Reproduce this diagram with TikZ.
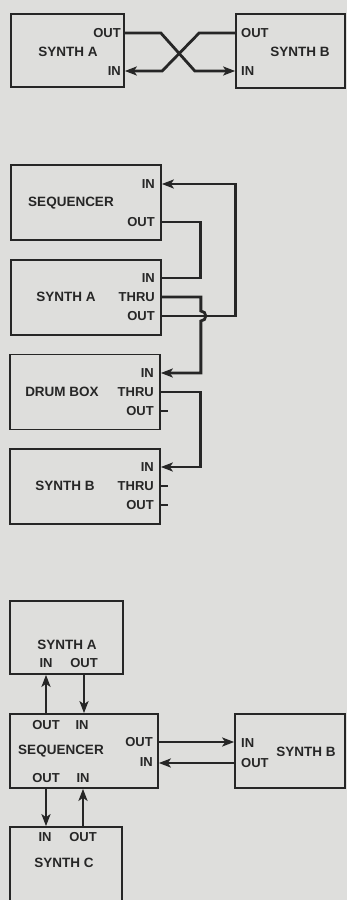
\documentclass[tikz,border=0pt]{standalone}
\usepackage{fontspec}
\setmainfont{Liberation Sans}
\usetikzlibrary{arrows.meta,positioning}
\definecolor{paper}{RGB}{222,222,220}
\definecolor{ink}{RGB}{38,38,38}

\begin{document}
\begin{tikzpicture}[
  x=1pt, y=-1pt,
  unit/.style={rectangle, draw=ink, line width=1.7pt, minimum width=150pt, minimum height=75pt, inner sep=0pt},
  port/.style={font=\bfseries\fontsize{13}{13}\selectfont, text=ink, inner sep=0pt},
  title/.style={font=\bfseries\fontsize{13.5}{13.5}\selectfont, text=ink, inner sep=0pt},
  wire/.style={draw=ink, line width=2.8pt},
  >={Stealth[length=12pt,width=9pt,inset=3pt]}
]

\path[use as bounding box, fill=paper] (0,0) rectangle (347,900);
\clip (0,0) rectangle (347,900);

% --- two synths, crossed ---
\node[unit, minimum width=113pt, minimum height=73pt] (synA) at (67.5,50.5) {};
\node[title] (synAname) at (68,52) {SYNTH A};
\node[port, anchor=east] (synAout) at (121,33) {OUT};
\node[port, anchor=east] (synAin) at (121,71) {IN};

\node[unit, minimum width=109pt, minimum height=74pt] (synB) at (290.5,51) {};
\node[title] (synBname) at (300,52) {SYNTH B};
\node[port, anchor=west] (synBout) at (241,33) {OUT};
\node[port, anchor=west] (synBin) at (241,71) {IN};

\draw[wire,->] (synA.east |- synAout) -- ++(36,0) -- ++(34,38) -- (synB.west |- synBin);
\draw[wire,->] (synB.west |- synBout) -- ++(-36,0) -- ++(-37,38) -- (synA.east |- synAin);

% --- daisy chain ---
\node[unit] (seq) at (86,202.5) {};
\node[title] (seqname) at (71,203) {SEQUENCER};
\node[port, anchor=east] (seqin) at (155,184) {IN};
\node[port, anchor=east] (seqout) at (155,222) {OUT};

\node[unit] (synAm) at (86,297.5) {};
\node[title] (synAmname) at (66,297) {SYNTH A};
\node[port, anchor=east] (synAmin) at (155,278) {IN};
\node[port, anchor=east] (synAmthru) at (155,297) {THRU};
\node[port, anchor=east] (synAmout) at (155,316) {OUT};

\node[unit] (drum) at (85,392) {};
\node[title] (drumname) at (62,392) {DRUM BOX};
\node[port, anchor=east] (drumin) at (154,373) {IN};
\node[port, anchor=east] (drumthru) at (154,392) {THRU};
\node[port, anchor=east] (drumout) at (154,411) {OUT};

\node[unit] (synBm) at (85,486.5) {};
\node[title] (synBmname) at (65,486) {SYNTH B};
\node[port, anchor=east] (synBmin) at (154,467) {IN};
\node[port, anchor=east] (synBmthru) at (154,486) {THRU};
\node[port, anchor=east] (synBmout) at (154,505) {OUT};

\draw[wire] (seq.east |- seqout) -- ++(39,0) |- (synAm.east |- synAmin);
\draw[wire,->] (synAm.east |- synAmthru) -- ++(39,0) -- ++(0,14)
  arc[start angle=90, end angle=-90, radius=5pt] |- (drum.east |- drumin);
\draw[wire,->] (synAm.east |- synAmout) -- ++(74,0) |- (seq.east |- seqin);
\draw[wire,->] (drum.east |- drumthru) -- ++(40,0) |- (synBm.east |- synBmin);
\draw[wire] (drum.east |- drumout) -- ++(7,0);
\draw[wire] (synBm.east |- synBmthru) -- ++(7,0);
\draw[wire] (synBm.east |- synBmout) -- ++(7,0);

% --- sequencer in the middle ---
\node[unit, minimum width=113pt, minimum height=73pt] (synAs) at (66.5,637.5) {};
\node[title] (synAsname) at (67,645) {SYNTH A};
\node[port] (synAsin) at (46,663) {IN};
\node[port] (synAsout) at (84,663) {OUT};

\node[unit, minimum width=148pt, minimum height=74pt] (seqs) at (84,751) {};
\node[title] (seqsname) at (61,751) {SEQUENCER};
\node[port] (seqstopout) at (46,725) {OUT};
\node[port] (seqstopin) at (82,725) {IN};
\node[port, anchor=east] (seqsout) at (153,742) {OUT};
\node[port, anchor=east] (seqsin) at (153,762) {IN};
\node[port] (seqsbotout) at (46,778) {OUT};
\node[port] (seqsbotin) at (83,778) {IN};

\node[unit, minimum width=110pt, minimum height=74pt] (synBs) at (290,751) {};
\node[title] (synBsname) at (306,752) {SYNTH B};
\node[port, anchor=west] (synBsin) at (241,743) {IN};
\node[port, anchor=west] (synBsout) at (241,763) {OUT};

\node[unit, minimum width=112pt, minimum height=90pt] (synCs) at (66,872) {};
\node[title] (synCsname) at (64,863) {SYNTH C};
\node[port] (synCsin) at (45,837) {IN};
\node[port] (synCsout) at (83,837) {OUT};

\draw[wire,->] (seqs.north -| seqstopout) -- (synAs.south -| seqstopout);
\draw[wire,->] (synAs.south -| synAsout) -- (seqs.north -| synAsout);
\draw[wire,->] (seqs.east |- seqsout) -- (synBs.west |- seqsout);
\draw[wire,->] (synBs.west |- synBsout) -- (seqs.east |- synBsout);
\draw[wire,->] (seqs.south -| seqsbotout) -- (synCs.north -| seqsbotout);
\draw[wire,->] (synCs.north -| synCsout) -- (seqs.south -| synCsout);

\end{tikzpicture}
\end{document}
